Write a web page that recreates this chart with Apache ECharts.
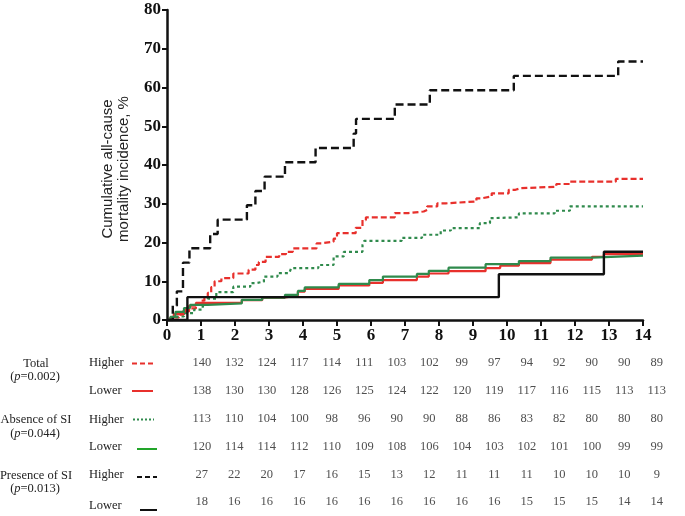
<!DOCTYPE html>
<html>
<head>
<meta charset="utf-8">
<script src="https://cdn.jsdelivr.net/npm/echarts@6/dist/echarts.min.js"></script>
<style>html,body{margin:0;padding:0;background:#fff}#c{width:685px;height:516px}</style>
</head>
<body>
<div id="c"></div>
<script>
// ---- Data (years, cumulative mortality %) ----
const xTicks = [0,1,2,3,4,5,6,7,8,9,10,11,12,13,14];
const yTicks = [0,10,20,30,40,50,60,70,80];

const totalHigher = [[0,0],[0.2,0.7],[0.35,1.4],[0.5,2.2],[0.65,3],[0.85,4],[1.0,5],[1.1,5.8],[1.2,7],[1.3,8.5],[1.4,10],[1.6,10.8],[1.95,12],[2.4,13],[2.6,14.2],[2.7,15],[2.9,16.3],[3.3,17],[3.5,17.6],[3.7,18.5],[4.4,19.8],[4.55,20.2],[4.9,21],[5.0,22.4],[5.55,23.8],[5.75,25.8],[5.85,26.5],[6.7,27.6],[7.1,28],[7.55,28.4],[7.65,29.3],[7.95,30.1],[8.2,30.6],[9.1,31.4],[9.25,31.9],[9.55,32.7],[10.05,33.6],[10.25,34.0],[10.4,34.4],[11.45,35.1],[11.85,35.7],[13.2,36.4],[14,36.4]];
const totalLower = [[0,0],[0.1,0.7],[0.2,1.5],[0.45,2.2],[0.55,2.9],[0.65,3.7],[0.85,4.4],[2.2,5.1],[2.8,5.8],[3.47,6.3],[3.85,7.3],[4.05,8.0],[5.05,8.9],[5.95,9.6],[6.35,10.3],[7.35,11.2],[7.7,12.0],[8.28,12.6],[9.37,13.4],[9.8,14.0],[10.35,14.7],[11.28,15.6],[12.5,16.3],[12.85,17.0],[14,17.0]];
const absenceHigher = [[0,0],[0.3,0.9],[0.5,1.8],[0.8,2.7],[1.05,3.6],[1.15,4.5],[1.2,5.5],[1.45,7.2],[1.95,8.6],[2.45,9.5],[2.6,9.9],[2.85,11.2],[3.25,12.1],[3.6,12.6],[3.65,13.4],[4.45,14.2],[4.9,16.4],[5.2,17.6],[5.75,19.4],[5.8,20.4],[6.9,21.2],[7.5,22],[8.05,23.1],[8.35,23.7],[9.2,25],[9.5,26.3],[9.6,26.5],[10.35,27.5],[11.4,28.2],[11.85,29.3],[14,29.3]];
const absenceLower = [[0,0],[0.1,0.8],[0.25,2.1],[0.5,3.1],[0.68,3.9],[1.2,4.3],[2.2,5.2],[2.8,5.8],[3.47,6.5],[3.85,7.5],[4.05,8.4],[5.05,9.3],[5.95,10.3],[6.35,11.2],[7.35,11.9],[7.7,12.7],[8.28,13.5],[9.37,14.4],[10.35,15.2],[11.28,16.1],[12.5,16.6],[14,16.6]];
const presenceHigher = [[0,0],[0.17,3.7],[0.29,7.4],[0.47,14.8],[0.66,18.5],[1.27,22.2],[1.49,25.9],[2.35,29.6],[2.6,33.3],[2.87,37.0],[3.47,40.7],[4.37,44.4],[5.49,48.1],[5.56,51.9],[6.7,55.6],[7.73,59.3],[10.2,63.0],[13.27,66.7],[14,66.7]];
const presenceLower = [[0,0],[0.6,5.9],[9.76,11.8],[12.85,17.6],[14,17.6]];

// ---- Numbers at risk ----
const riskCols = ['0','1','2','3','4','5','6','7','8','9','10','11','12','13','14'];
const riskTotalHigher    = [140,132,124,117,114,111,103,102,99,97,94,92,90,90,89];
const riskTotalLower     = [138,130,130,128,126,125,124,122,120,119,117,116,115,113,113];
const riskAbsenceHigher  = [113,110,104,100,98,96,90,90,88,86,83,82,80,80,80];
const riskAbsenceLower   = [120,114,114,112,110,109,108,106,104,103,102,101,100,99,99];
const riskPresenceHigher = [27,22,20,17,16,15,13,12,11,11,11,10,10,10,9];
const riskPresenceLower  = [18,16,16,16,16,16,16,16,16,16,15,15,15,14,14];
const groupLabels = ['Total','Absence of SI','Presence of SI'];
const pValues = ['0.002','0.044','0.013'];
const levelLabels = ['Higher','Lower'];

const RED = '#e8302c', GREEN = '#2f8a4c', GREEN_LEG = '#22a52a', BLACK = '#111111';
const serif = '"Liberation Serif","Times New Roman",serif';

const riskRows = [riskTotalHigher, riskTotalLower, riskAbsenceHigher, riskAbsenceLower, riskPresenceHigher, riskPresenceLower];
const riskData = [];
riskRows.forEach((row, r) => row.forEach((v, c) => riskData.push([c, r, v])));

const chart = echarts.init(document.getElementById('c'), null, {renderer: 'canvas'});

function km(name, data, color, type, width) {
  return {
    name, type: 'line', step: 'end', data, xAxisIndex: 0, yAxisIndex: 0,
    symbol: 'none', animation: false, silent: true,
    lineStyle: {color, width, type, cap: 'butt'}
  };
}

// graphic: y-axis title, row labels, legend line samples
const graphics = [];
graphics.push({
  type: 'text', x: 116, y: 169, rotation: Math.PI / 2, originX: 0, originY: 0,
  style: {
    text: 'Cumulative all-cause\nmortality incidence, %',
    font: '15px "Liberation Sans", Arial, sans-serif', fill: '#222',
    align: 'center', verticalAlign: 'middle', lineHeight: 16
  }
});
const rowY = [363, 391, 419.5, 447, 475, 503];
groupLabels.forEach((g, i) => {
  graphics.push({type: 'text', x: 36, y: rowY[2*i] + 0.5, style: {text: g, font: '12.5px ' + serif, fill: '#222', align: 'center', verticalAlign: 'middle'}});
  graphics.push({type: 'text', x: 35, y: rowY[2*i] + 14, style: {
    text: '{a|(}{i|p}{a|=' + pValues[i] + ')}', align: 'center', verticalAlign: 'middle',
    rich: {a: {font: '12.5px ' + serif, fill: '#222'}, i: {font: 'italic 12.5px ' + serif, fill: '#222'}}
  }});
});
rowY.forEach((y, i) => {
  graphics.push({type: 'text', x: 89, y: (i === 5 ? y + 3 : y), style: {text: levelLabels[i % 2], font: '12.5px ' + serif, fill: '#222', align: 'left', verticalAlign: 'middle'}});
});
const samples = [
  {x1: 132, x2: 153, y: 363.5, color: RED, dash: [5, 3]},
  {x1: 132, x2: 153, y: 391, color: RED, dash: null},
  {x1: 133, x2: 154, y: 419.5, color: GREEN, dash: [2, 2]},
  {x1: 137, x2: 157, y: 449, color: GREEN_LEG, dash: null},
  {x1: 137, x2: 157, y: 477, color: BLACK, dash: [5, 3]},
  {x1: 140, x2: 157, y: 510, color: BLACK, dash: null}
];
samples.forEach(s => graphics.push({
  type: 'line', shape: {x1: s.x1, y1: s.y, x2: s.x2, y2: s.y},
  style: {stroke: s.color, lineWidth: 2, lineDash: s.dash}
}));

chart.setOption({
  animation: false,
  backgroundColor: '#ffffff',
  grid: [
    {left: 167, top: 10, width: 476, height: 310},
    {left: 185.5, top: 349, width: 487.5, height: 167}
  ],
  xAxis: [
    {
      type: 'value', gridIndex: 0, min: 0, max: 14, interval: 1,
      axisLine: {show: true, lineStyle: {color: BLACK, width: 2.5}},
      axisTick: {show: true, length: 6, lineStyle: {color: BLACK, width: 2}},
      axisLabel: {margin: 7, color: '#111', fontFamily: serif, fontWeight: 'bold', fontSize: 17,
        formatter: v => xTicks.includes(v) ? String(v) : ''},
      splitLine: {show: false}
    },
    {type: 'category', gridIndex: 1, data: riskCols, show: false}
  ],
  yAxis: [
    {
      type: 'value', gridIndex: 0, min: 0, max: 80, interval: 10,
      axisLine: {show: true, lineStyle: {color: BLACK, width: 2.5}},
      axisTick: {show: true, length: 5, lineStyle: {color: BLACK, width: 2}},
      axisLabel: {margin: 6, color: '#111', fontFamily: serif, fontWeight: 'bold', fontSize: 17,
        formatter: v => yTicks.includes(v) ? String(v) : ''},
      splitLine: {show: false}
    },
    {type: 'category', gridIndex: 1, data: ['0','1','2','3','4','5'], inverse: true, show: false}
  ],
  series: [
    km('Total Higher', totalHigher, RED, [6, 3], 2.2),
    km('Absence Higher', absenceHigher, GREEN, [3, 3], 2.2),
    km('Total Lower', totalLower, RED, 'solid', 2.2),
    km('Absence Lower', absenceLower, GREEN, 'solid', 2.2),
    km('Presence Higher', presenceHigher, BLACK, [8, 4], 2.4),
    km('Presence Lower', presenceLower, BLACK, 'solid', 2.4),
    {
      type: 'scatter', xAxisIndex: 1, yAxisIndex: 1, data: riskData,
      symbolSize: 0, silent: true, animation: false,
      label: {show: true, position: 'inside', formatter: p => String(p.value[2]),
        fontFamily: serif, fontSize: 12.5, color: '#222'}
    }
  ],
  graphic: graphics
});
</script>
</body>
</html>
